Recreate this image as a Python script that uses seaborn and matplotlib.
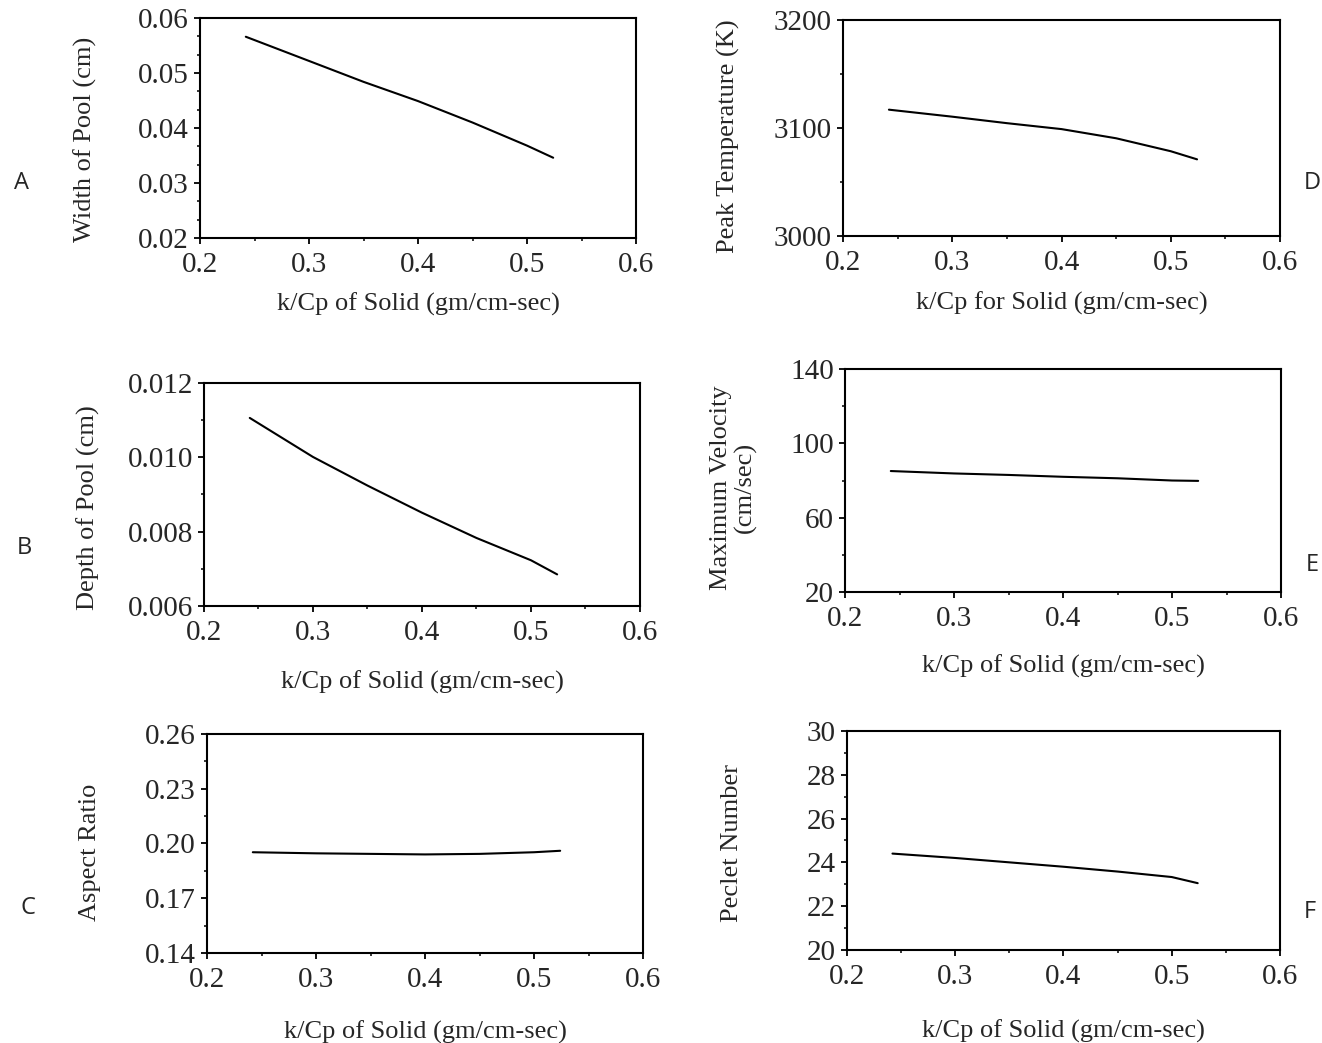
import matplotlib
matplotlib.use('Agg')

import matplotlib.pyplot as plt
import seaborn as sns
import pandas as pd
import numpy as np

# k/Cp of solid (gm/cm-sec)
kcp = [0.242, 0.30, 0.35, 0.40, 0.45, 0.50, 0.524]

width_pool = [0.0566, 0.0522, 0.0484, 0.0449, 0.0410, 0.0368, 0.0346]
depth_pool = [0.01106, 0.01001, 0.00924, 0.00851, 0.00783, 0.00723, 0.00685]
aspect_ratio = [0.1952, 0.1946, 0.1943, 0.1940, 0.1943, 0.1952, 0.1960]
peak_temp = [3117, 3110.5, 3104.5, 3099, 3090.5, 3078.5, 3071]
max_velocity = [85.1, 83.8, 83.0, 82.0, 81.2, 80.0, 79.8]
peclet = [24.4, 24.2, 24.0, 23.8, 23.58, 23.33, 23.05]

sns.set_style('ticks')
plt.rcParams['font.family'] = ['Liberation Serif', 'DejaVu Serif']

fig = plt.figure(figsize=(13.22, 10.43), dpi=100)

# values, ylabel, xlabel, yticks, minor step, fmt, rect, ylabel pos, xlabel y, letter, letter pos
panels = [
    (width_pool, 'Width of Pool (cm)', 'k/Cp of Solid (gm/cm-sec)',
     [0.02, 0.03, 0.04, 0.05, 0.06], 0.01 / 3, '{:.2f}',
     [0.1513, 0.7718, 0.3298, 0.2109], (-0.262, 0.45), -0.30, 'A', (14, 183)),
    (depth_pool, 'Depth of Pool (cm)', 'k/Cp of Solid (gm/cm-sec)',
     [0.006, 0.008, 0.010, 0.012], 0.001, '{:.3f}',
     [0.1543, 0.4190, 0.3298, 0.2138], (-0.266, 0.44), -0.34, 'B', (17, 548)),
    (aspect_ratio, 'Aspect Ratio', 'k/Cp of Solid (gm/cm-sec)',
     [0.14, 0.17, 0.20, 0.23, 0.26], 0.015, '{:.2f}',
     [0.1566, 0.0863, 0.3298, 0.2100], (-0.268, 0.46), -0.36, 'C', (21, 908)),
    (peak_temp, 'Peak Temperature (K)', 'k/Cp for Solid (gm/cm-sec)',
     [3000, 3100, 3200], 50, '{:.0f}',
     [0.6377, 0.7737, 0.3306, 0.2071], (-0.263, 0.46), -0.31, 'D', (1304, 183)),
    (max_velocity, 'Maximum Velocity\n(cm/sec)', 'k/Cp of Solid (gm/cm-sec)',
     [20, 60, 100, 140], 20, '{:.0f}',
     [0.6392, 0.4324, 0.3298, 0.2138], (-0.255, 0.47), -0.335, 'E', (1306, 565)),
    (peclet, 'Peclet Number', 'k/Cp of Solid (gm/cm-sec)',
     [20, 22, 24, 26, 28, 30], 1, '{:.0f}',
     [0.6407, 0.0892, 0.3275, 0.2100], (-0.266, 0.49), -0.37, 'F', (1304, 912)),
]

for vals, ylab, xlab, yt, ymin_step, fmt, rect, ylpos, xly, letter, lpos in panels:
    ax = fig.add_axes(rect)
    df = pd.DataFrame({'x': kcp, 'y': vals})
    sns.lineplot(data=df, x='x', y='y', ax=ax, color='black', lw=1.5)
    ax.set_xlim(0.2, 0.6)
    ax.set_ylim(yt[0], yt[-1])
    ax.set_xticks([0.2, 0.3, 0.4, 0.5, 0.6])
    ax.set_xticklabels(['0.2', '0.3', '0.4', '0.5', '0.6'])
    ax.set_xticks(np.arange(0.25, 0.6, 0.1), minor=True)
    ax.set_yticks(yt)
    ax.set_yticklabels([fmt.format(v) for v in yt])
    ax.set_yticks(np.arange(yt[0] + ymin_step, yt[-1] - ymin_step / 2, ymin_step), minor=True)
    ax.tick_params(axis='both', which='major', labelsize=21, length=4, width=1.3,
                   direction='out', color='black')
    ax.tick_params(axis='x', which='major', pad=6)
    ax.tick_params(axis='y', which='major', pad=4)
    ax.tick_params(axis='both', which='minor', length=2.5, width=1.1, direction='out',
                   color='black')
    for s in ax.spines.values():
        s.set_linewidth(1.5)
        s.set_color('black')
    ax.set_xlabel(xlab, fontsize=19)
    ax.set_ylabel(ylab, fontsize=19, linespacing=1.1)
    ax.xaxis.set_label_coords(0.5, xly)
    ax.yaxis.set_label_coords(ylpos[0], ylpos[1])
    ax.xaxis.label.set_va('center')
    ax.yaxis.label.set_va('center')
    fig.text(lpos[0] / 1322, 1 - lpos[1] / 1043, letter, fontsize=17,
             family='Open Sans', fontweight='medium', ha='left', va='center')

fig.savefig('out.png', dpi=100)
